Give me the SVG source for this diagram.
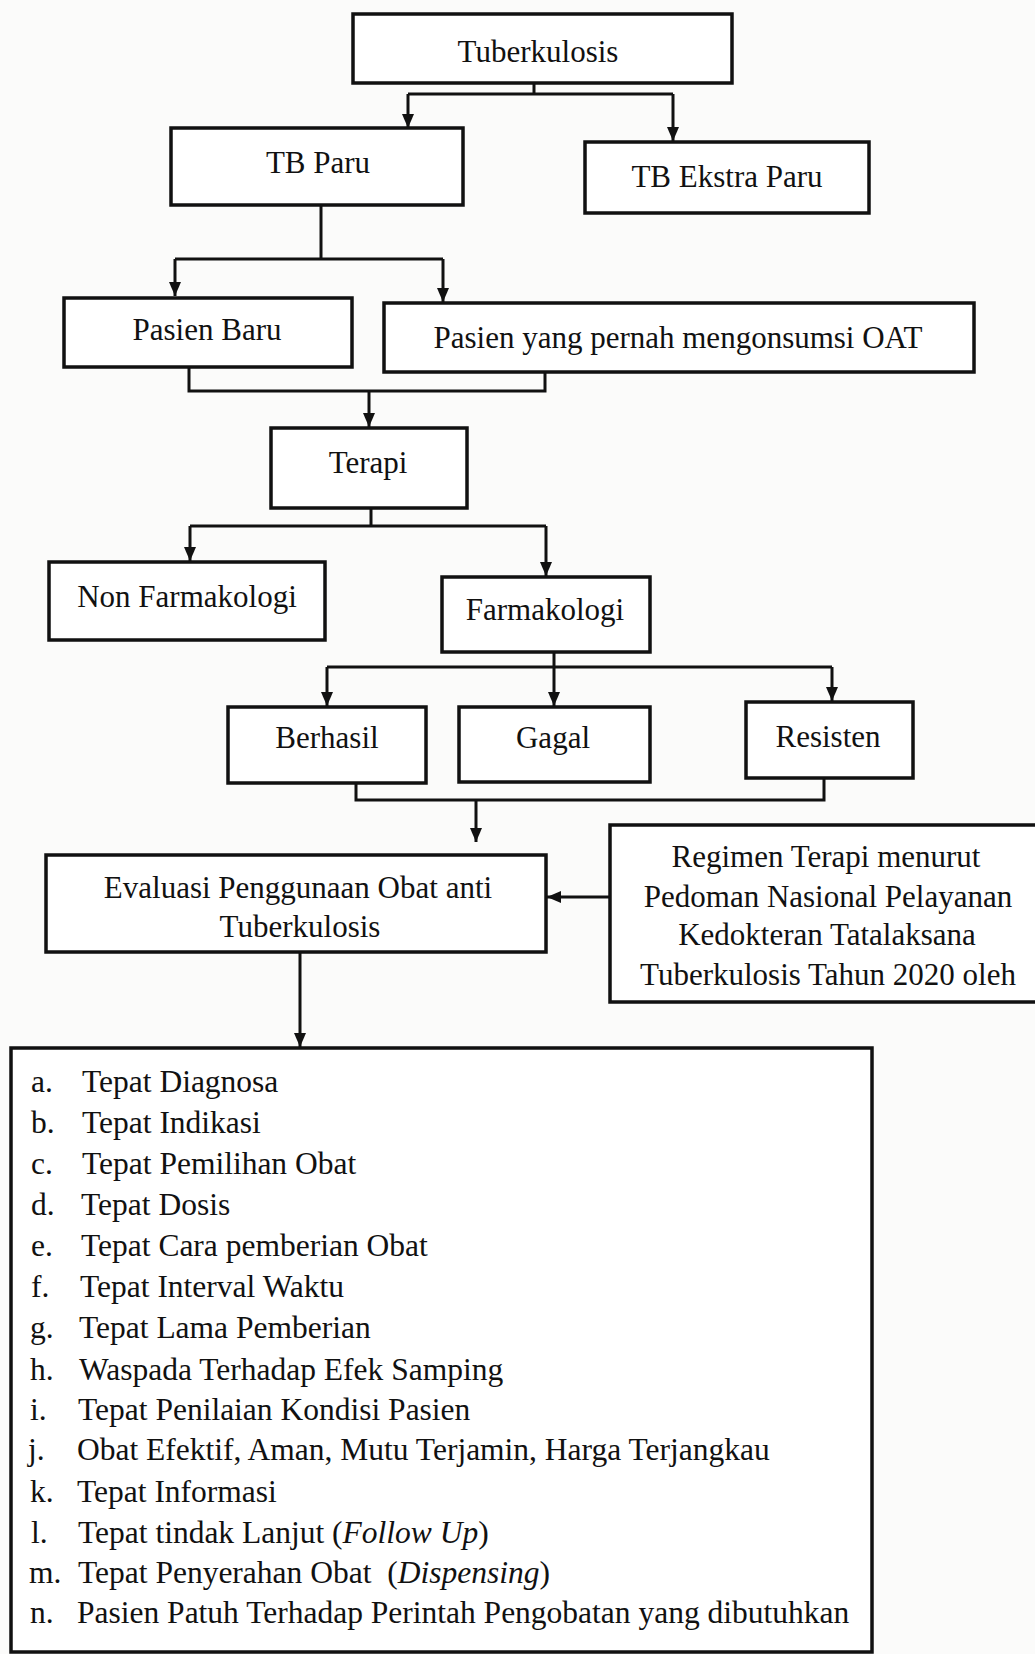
<svg xmlns="http://www.w3.org/2000/svg" width="1035" height="1654" viewBox="0 0 1035 1654">
<style>
  .box { fill: #ffffff; stroke: #111111; stroke-width: 3.5; }
  .lbl { font-family: "Liberation Serif", "Times New Roman", serif; font-size: 31px; fill: #111111; text-anchor: middle; }
  .item { font-family: "Liberation Serif", "Times New Roman", serif; font-size: 31.5px; fill: #111111; }
  .conn { fill: none; stroke: #111111; stroke-width: 3; }
</style>
<defs>
  <marker id="arr" markerUnits="userSpaceOnUse" markerWidth="14" markerHeight="12" refX="14" refY="6" orient="auto">
    <path d="M0,0 L14,6 L0,12 z" fill="#111111"/>
  </marker>
</defs>
<rect x="0" y="0" width="1035" height="1654" fill="#fbfbfa"/>

<g id="connectors">
  <path class="conn" d="M534,83 V94"/>
  <path class="conn" d="M408,94 H673"/>
  <path class="conn" d="M408,94 V128" marker-end="url(#arr)"/>
  <path class="conn" d="M673,94 V141" marker-end="url(#arr)"/>

  <path class="conn" d="M321,205 V259"/>
  <path class="conn" d="M175,259 H443"/>
  <path class="conn" d="M175,259 V296" marker-end="url(#arr)"/>
  <path class="conn" d="M443,259 V302" marker-end="url(#arr)"/>

  <path class="conn" d="M189,367 V391 H545 V372"/>
  <path class="conn" d="M369,391 V427" marker-end="url(#arr)"/>

  <path class="conn" d="M371,508 V526"/>
  <path class="conn" d="M190,526 H546"/>
  <path class="conn" d="M190,526 V561" marker-end="url(#arr)"/>
  <path class="conn" d="M546,526 V576" marker-end="url(#arr)"/>

  <path class="conn" d="M554,652 V706" marker-end="url(#arr)"/>
  <path class="conn" d="M327,667 H832"/>
  <path class="conn" d="M327,667 V706" marker-end="url(#arr)"/>
  <path class="conn" d="M832,667 V701" marker-end="url(#arr)"/>

  <path class="conn" d="M356,783 V800 H824 V778"/>
  <path class="conn" d="M476,800 V842" marker-end="url(#arr)"/>

  <path class="conn" d="M609,897 H547" marker-end="url(#arr)"/>
  <path class="conn" d="M300,952 V1047" marker-end="url(#arr)"/>
</g>

<g id="tuberkulosis">
  <rect class="box" x="353" y="14" width="379" height="69"/>
  <text class="lbl" x="538" y="62">Tuberkulosis</text>
</g>
<g id="tb-paru">
  <rect class="box" x="171" y="128" width="292" height="77"/>
  <text class="lbl" x="318" y="173">TB Paru</text>
</g>
<g id="tb-ekstra-paru">
  <rect class="box" x="585" y="142" width="284" height="71"/>
  <text class="lbl" x="727" y="187">TB Ekstra Paru</text>
</g>
<g id="pasien-baru">
  <rect class="box" x="64" y="298" width="288" height="69"/>
  <text class="lbl" x="207" y="340">Pasien Baru</text>
</g>
<g id="pasien-oat">
  <rect class="box" x="384" y="303" width="590" height="69"/>
  <text class="lbl" x="678" y="348">Pasien yang pernah mengonsumsi OAT</text>
</g>
<g id="terapi">
  <rect class="box" x="271" y="428" width="196" height="80"/>
  <text class="lbl" x="368" y="473">Terapi</text>
</g>
<g id="non-farmakologi">
  <rect class="box" x="49" y="562" width="276" height="78"/>
  <text class="lbl" x="187" y="607">Non Farmakologi</text>
</g>
<g id="farmakologi">
  <rect class="box" x="442" y="577" width="208" height="75"/>
  <text class="lbl" x="545" y="620">Farmakologi</text>
</g>
<g id="berhasil">
  <rect class="box" x="228" y="707" width="198" height="76"/>
  <text class="lbl" x="327" y="748">Berhasil</text>
</g>
<g id="gagal">
  <rect class="box" x="459" y="707" width="191" height="75"/>
  <text class="lbl" x="553" y="748">Gagal</text>
</g>
<g id="resisten">
  <rect class="box" x="746" y="702" width="167" height="76"/>
  <text class="lbl" x="828" y="747">Resisten</text>
</g>
<g id="evaluasi">
  <rect class="box" x="46" y="855" width="500" height="97"/>
  <text class="lbl" x="298" y="898">Evaluasi Penggunaan Obat anti</text>
  <text class="lbl" x="300" y="937">Tuberkulosis</text>
</g>
<g id="regimen">
  <rect class="box" x="610" y="825" width="440" height="177"/>
  <text class="lbl" x="826" y="867">Regimen Terapi menurut</text>
  <text class="lbl" x="828" y="907">Pedoman Nasional Pelayanan</text>
  <text class="lbl" x="827" y="945">Kedokteran Tatalaksana</text>
  <text class="lbl" x="828" y="985">Tuberkulosis Tahun 2020 oleh</text>
</g>
<g id="kriteria">
  <rect class="box" x="11" y="1048" width="861" height="604"/>
  <text class="item" x="31" y="1092">a.</text><text class="item" x="82" y="1092">Tepat Diagnosa</text>
  <text class="item" x="31" y="1133">b.</text><text class="item" x="82" y="1133">Tepat Indikasi</text>
  <text class="item" x="31" y="1174">c.</text><text class="item" x="82" y="1174">Tepat Pemilihan Obat</text>
  <text class="item" x="31" y="1215">d.</text><text class="item" x="81" y="1215">Tepat Dosis</text>
  <text class="item" x="31" y="1256">e.</text><text class="item" x="81" y="1256">Tepat Cara pemberian Obat</text>
  <text class="item" x="31" y="1297">f.</text><text class="item" x="80" y="1297">Tepat Interval Waktu</text>
  <text class="item" x="30" y="1338">g.</text><text class="item" x="79" y="1338">Tepat Lama Pemberian</text>
  <text class="item" x="30" y="1380">h.</text><text class="item" x="79" y="1380">Waspada Terhadap Efek Samping</text>
  <text class="item" x="30" y="1420">i.</text><text class="item" x="78" y="1420">Tepat Penilaian Kondisi Pasien</text>
  <text class="item" x="28" y="1460">j.</text><text class="item" x="77" y="1460">Obat Efektif, Aman, Mutu Terjamin, Harga Terjangkau</text>
  <text class="item" x="30" y="1502">k.</text><text class="item" x="77" y="1502">Tepat Informasi</text>
  <text class="item" x="31" y="1543">l.</text><text class="item" x="78" y="1543">Tepat tindak Lanjut (<tspan font-style="italic">Follow Up</tspan>)</text>
  <text class="item" x="29" y="1583">m.</text><text class="item" x="78" y="1583" xml:space="preserve">Tepat Penyerahan Obat  (<tspan font-style="italic">Dispensing</tspan>)</text>
  <text class="item" x="30" y="1623">n.</text><text class="item" x="77" y="1623">Pasien Patuh Terhadap Perintah Pengobatan yang dibutuhkan</text>
</g>
</svg>
